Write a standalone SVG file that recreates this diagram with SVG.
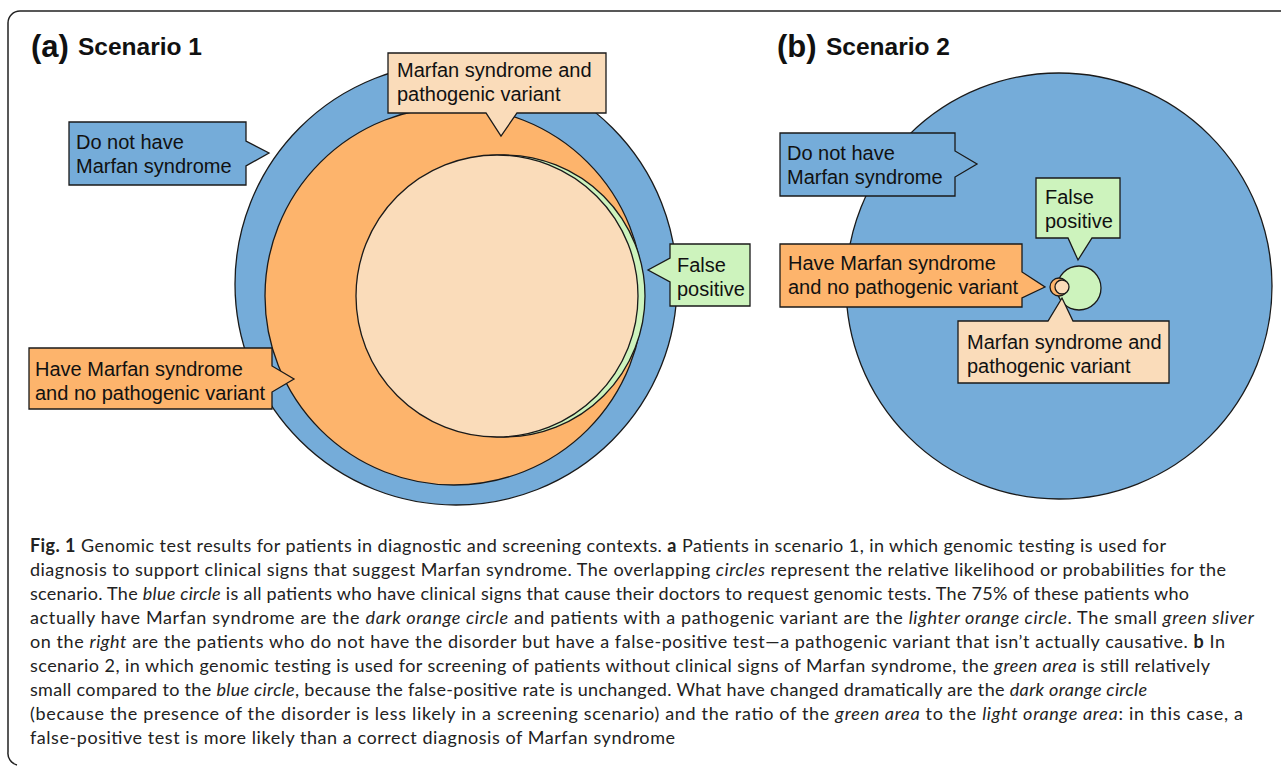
<svg xmlns="http://www.w3.org/2000/svg" width="1281" height="766" viewBox="0 0 1281 766">
<style>
.c{stroke:#1a1a1a;stroke-width:1.3}
.blue{fill:#75acd9}
.dor{fill:#fdb46c}
.lor{fill:#fadcba}
.grn{fill:#cdf3bd}
.lbl{font-family:"Liberation Sans",Arial,sans-serif;font-size:20px;fill:#111}
.ttl{font-family:"Liberation Sans",Arial,sans-serif;font-weight:bold;fill:#111}
.cap{font-family:Lato,"Open Sans",sans-serif;font-size:18px;fill:#222}
.it{font-style:italic}
.b{font-weight:bold}
</style>
<rect width="1281" height="766" fill="#fff"/>
<path d="M1281,11 H20 A12,12 0 0 0 8,23 V752 A12,12 0 0 0 17,765" fill="none" stroke="#222" stroke-width="1.5"/>

<g id="titleA"><text class="ttl" x="31" y="57" font-size="31">(a)</text><text class="ttl" x="78" y="55" font-size="24.5">Scenario 1</text></g>
<g id="titleB"><text class="ttl" x="777" y="57" font-size="31">(b)</text><text class="ttl" x="826" y="55" font-size="24.5">Scenario 2</text></g>

<g id="scenario1-circles">
<circle id="s1-blue" class="c blue" cx="456" cy="284" r="221"/>
<circle id="s1-darkorange" class="c dor" cx="454" cy="296" r="189"/>
<circle id="s1-green" class="c grn" cx="504" cy="296" r="141"/>
<circle id="s1-lightorange" class="c lor" cx="497" cy="296" r="141"/>
</g>

<g id="scenario2-circles">
<circle id="s2-blue" class="c blue" cx="1059" cy="286" r="213"/>
<circle id="s2-green" class="c grn" cx="1079" cy="288" r="22"/>
<circle id="s2-darkorange" class="c dor" cx="1059" cy="287" r="9"/>
<circle id="s2-lightorange" class="c lor" cx="1062" cy="287" r="7"/>
</g>

<g id="s1-callout-mspv">
<path class="c lor" d="M388,53 H606 V113 H517 L501,136 L486,113 H388 Z"/>
<text class="lbl" x="397" y="77">Marfan syndrome and</text>
<text class="lbl" x="397" y="101">pathogenic variant</text>
</g>
<g id="s1-callout-notmarfan">
<path class="c blue" d="M69,122 H246 V141 L269,153 L246,166 V185 H69 Z"/>
<text class="lbl" x="76" y="149">Do not have</text>
<text class="lbl" x="76" y="173">Marfan syndrome</text>
</g>
<g id="s1-callout-fp">
<path class="c grn" d="M670,244 H750 V306 H670 V282 L648,270 L670,258 Z"/>
<text class="lbl" x="677" y="272">False</text>
<text class="lbl" x="677" y="296">positive</text>
</g>
<g id="s1-callout-nopv">
<path class="c dor" d="M29,348 H272 V366 L294,379 L272,392 V409 H29 Z"/>
<text class="lbl" x="35" y="376">Have Marfan syndrome</text>
<text class="lbl" x="35" y="400">and no pathogenic variant</text>
</g>

<g id="s2-callout-notmarfan">
<path class="c blue" d="M780,133 H955 V151 L977,164 L955,177 V196 H780 Z"/>
<text class="lbl" x="787" y="160">Do not have</text>
<text class="lbl" x="787" y="184">Marfan syndrome</text>
</g>
<g id="s2-callout-fp">
<path class="c grn" d="M1036,178 H1120 V238 H1092 L1078,260 L1068,238 H1036 Z"/>
<text class="lbl" x="1045" y="204">False</text>
<text class="lbl" x="1045" y="228">positive</text>
</g>
<g id="s2-callout-nopv">
<path class="c dor" d="M780,244 H1022 V272 L1045,287 L1022,298 V307 H780 Z"/>
<text class="lbl" x="788" y="270">Have Marfan syndrome</text>
<text class="lbl" x="788" y="294">and no pathogenic variant</text>
</g>
<g id="s2-callout-mspv">
<path class="c lor" d="M958,321 H1048 L1062,298 L1073,321 H1169 V383 H958 Z"/>
<text class="lbl" x="967" y="349">Marfan syndrome and</text>
<text class="lbl" x="967" y="373">pathogenic variant</text>
</g>

<g id="caption">
<text class="cap" x="30" y="552" textLength="1136" lengthAdjust="spacing"><tspan class="b">Fig. 1</tspan> Genomic test results for patients in diagnostic and screening contexts. <tspan class="b">a</tspan> Patients in scenario 1, in which genomic testing is used for</text>
<text class="cap" x="30" y="576" textLength="1196" lengthAdjust="spacing">diagnosis to support clinical signs that suggest Marfan syndrome. The overlapping <tspan class="it">circles</tspan> represent the relative likelihood or probabilities for the</text>
<text class="cap" x="30" y="600" textLength="1159" lengthAdjust="spacing">scenario. The <tspan class="it">blue circle</tspan> is all patients who have clinical signs that cause their doctors to request genomic tests. The 75% of these patients who</text>
<text class="cap" x="30" y="624" textLength="1224" lengthAdjust="spacing">actually have Marfan syndrome are the <tspan class="it">dark orange circle</tspan> and patients with a pathogenic variant are the <tspan class="it">lighter orange circle</tspan>. The small <tspan class="it">green sliver</tspan></text>
<text class="cap" x="30" y="648" textLength="1195" lengthAdjust="spacing">on the <tspan class="it">right</tspan> are the patients who do not have the disorder but have a false-positive test—a pathogenic variant that isn’t actually causative. <tspan class="b">b</tspan> In</text>
<text class="cap" x="30" y="672" textLength="1180" lengthAdjust="spacing">scenario 2, in which genomic testing is used for screening of patients without clinical signs of Marfan syndrome, the <tspan class="it">green area</tspan> is still relatively</text>
<text class="cap" x="30" y="696" textLength="1117" lengthAdjust="spacing">small compared to the <tspan class="it">blue circle</tspan>, because the false-positive rate is unchanged. What have changed dramatically are the <tspan class="it">dark orange circle</tspan></text>
<text class="cap" x="30" y="720" textLength="1213" lengthAdjust="spacing">(because the presence of the disorder is less likely in a screening scenario) and the ratio of the <tspan class="it">green area</tspan> to the <tspan class="it">light orange area</tspan>: in this case, a</text>
<text class="cap" x="30" y="744" textLength="645" lengthAdjust="spacing">false-positive test is more likely than a correct diagnosis of Marfan syndrome</text>
</g>
</svg>
